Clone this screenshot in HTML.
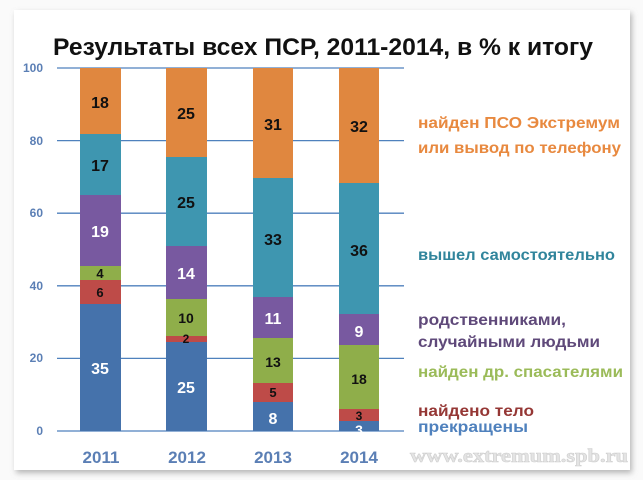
<!DOCTYPE html>
<html><head><meta charset="utf-8"><style>
body{margin:0;background:#fff;}
svg{display:block;font-family:"Liberation Sans","DejaVu Sans",sans-serif;}
</style></head><body>
<svg width="643" height="480" viewBox="0 0 643 480">
<defs><filter id="sh" x="-5%" y="-5%" width="110%" height="110%"><feDropShadow dx="2" dy="3" stdDeviation="3" flood-color="#888" flood-opacity="0.6"/></filter></defs>
<rect x="0" y="0" width="643" height="480" fill="#fafafa"/>
<rect x="14" y="10" width="616" height="460" fill="#fff" filter="url(#sh)"/>
<text x="323" y="55" text-anchor="middle" font-size="24" font-weight="bold" fill="#111" textLength="540" lengthAdjust="spacingAndGlyphs">Результаты всех ПСР, 2011-2014, в % к итогу</text>
<g stroke="#4f81bd" stroke-width="1.3">
<line x1="57" y1="68" x2="404" y2="68"/><line x1="57" y1="140.6" x2="404" y2="140.6"/><line x1="57" y1="213.2" x2="404" y2="213.2"/><line x1="57" y1="285.8" x2="404" y2="285.8"/><line x1="57" y1="358.4" x2="404" y2="358.4"/><line x1="57" y1="431" x2="404" y2="431"/>
</g>
<g font-size="12" font-weight="bold" fill="#5b7fb5" text-anchor="end">
<text x="43" y="72">100</text><text x="43" y="145">80</text><text x="43" y="217">60</text><text x="43" y="290">40</text><text x="43" y="362">20</text><text x="43" y="435">0</text>
</g>
<g>
<rect x="80" y="68" width="41" height="66" fill="#e0873f"/><rect x="80" y="134" width="41" height="61" fill="#3e96b0"/><rect x="80" y="195" width="41" height="71" fill="#7859a0"/><rect x="80" y="266" width="41" height="14" fill="#8fae4a"/><rect x="80" y="280" width="41" height="24" fill="#be4b48"/><rect x="80" y="304" width="41" height="127" fill="#4572ab"/>
<rect x="166" y="68" width="41" height="89" fill="#e0873f"/><rect x="166" y="157" width="41" height="89" fill="#3e96b0"/><rect x="166" y="246" width="41" height="53" fill="#7859a0"/><rect x="166" y="299" width="41" height="37" fill="#8fae4a"/><rect x="166" y="336" width="41" height="6" fill="#be4b48"/><rect x="166" y="342" width="41" height="89" fill="#4572ab"/>
<rect x="253" y="68" width="40" height="110" fill="#e0873f"/><rect x="253" y="178" width="40" height="119" fill="#3e96b0"/><rect x="253" y="297" width="40" height="41" fill="#7859a0"/><rect x="253" y="338" width="40" height="45" fill="#8fae4a"/><rect x="253" y="383" width="40" height="19" fill="#be4b48"/><rect x="253" y="402" width="40" height="29" fill="#4572ab"/>
<rect x="339" y="68" width="40" height="115" fill="#e0873f"/><rect x="339" y="183" width="40" height="131" fill="#3e96b0"/><rect x="339" y="314" width="40" height="31" fill="#7859a0"/><rect x="339" y="345" width="40" height="64" fill="#8fae4a"/><rect x="339" y="409" width="40" height="12" fill="#be4b48"/><rect x="339" y="421" width="40" height="10" fill="#4572ab"/>
</g>
<g font-size="16" font-weight="bold" text-anchor="middle" fill="#111">
<text x="100" y="108">18</text><text x="100" y="171">17</text><text x="100" y="237" fill="#fff">19</text><text x="100" y="278" font-size="13">4</text><text x="100" y="297" font-size="13">6</text><text x="100" y="374" fill="#fff">35</text>
<text x="186" y="119">25</text><text x="186" y="208">25</text><text x="186" y="279" fill="#fff">14</text><text x="186" y="323" font-size="14">10</text><text x="186" y="343" font-size="12">2</text><text x="186" y="393" fill="#fff">25</text>
<text x="273" y="130">31</text><text x="273" y="245">33</text><text x="273" y="324" fill="#fff">11</text><text x="273" y="367" font-size="14">13</text><text x="273" y="397" font-size="13">5</text><text x="273" y="424" fill="#fff">8</text>
<text x="359" y="132">32</text><text x="359" y="256">36</text><text x="359" y="337" fill="#fff">9</text><text x="359" y="384" font-size="14">18</text><text x="359" y="420" font-size="12">3</text><text x="359" y="435" fill="#fff" font-size="14">3</text>
</g>
<g font-size="17" font-weight="bold" fill="#5b7fb5" text-anchor="middle">
<text x="101" y="463">2011</text><text x="187" y="463">2012</text><text x="273" y="463">2013</text><text x="359" y="463">2014</text>
</g>
<g font-size="16" font-weight="bold" lengthAdjust="spacingAndGlyphs">
<text x="418" y="128" fill="#e8893f" textLength="202" lengthAdjust="spacingAndGlyphs">найден ПСО Экстремум</text>
<text x="418" y="153" fill="#e8893f" textLength="203" lengthAdjust="spacingAndGlyphs">или вывод по телефону</text>
<text x="418" y="260" fill="#31859c" textLength="197" lengthAdjust="spacingAndGlyphs">вышел самостоятельно</text>
<text x="418" y="325" fill="#5f497a" textLength="148" lengthAdjust="spacingAndGlyphs">родственниками,</text>
<text x="418" y="347" fill="#5f497a" textLength="182" lengthAdjust="spacingAndGlyphs">случайными людьми</text>
<text x="418" y="377" fill="#9bbb59" textLength="205" lengthAdjust="spacingAndGlyphs">найден др. спасателями</text>
<text x="418" y="416" fill="#953735" textLength="116" lengthAdjust="spacingAndGlyphs">найдено тело</text>
<text x="418" y="432" fill="#4f81bd" textLength="110" lengthAdjust="spacingAndGlyphs">прекращены</text>
</g>
<text x="410" y="462" font-size="19" font-weight="bold" fill="#e4e4e4" stroke="#cfcfcf" stroke-width="0.6" font-family="Liberation Serif, serif" textLength="218" lengthAdjust="spacingAndGlyphs">www.extremum.spb.ru</text>
</svg>
</body></html>
